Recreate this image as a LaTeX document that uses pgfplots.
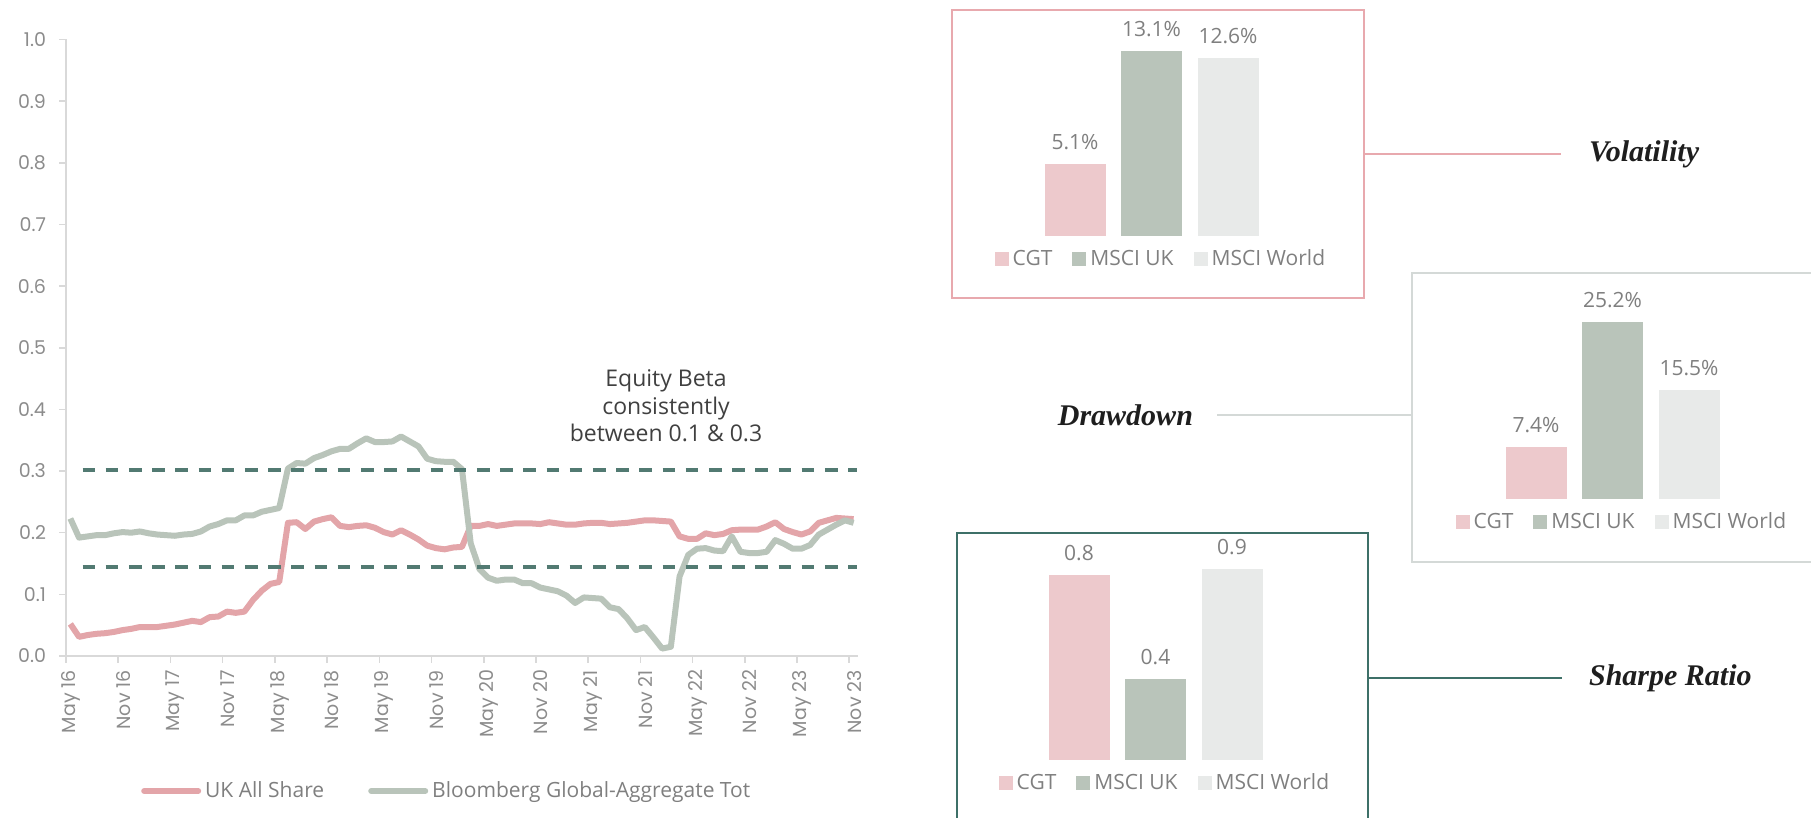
\documentclass[border=0pt]{standalone}
\usepackage{fontspec}
\setmainfont{Open Sans}
\newfontfamily\tickfont{Poppins}
\newfontfamily\headfont{Liberation Serif}
\usepackage{pgfplots}
\pgfplotsset{compat=1.18}
\usepackage{pgfplotstable}

\definecolor{ukline}{HTML}{E3A5A9}
\definecolor{bbline}{HTML}{B9C4BA}
\definecolor{dashteal}{HTML}{527A72}
\definecolor{boxteal}{HTML}{3E7068}
\definecolor{boxpink}{HTML}{E8A9AE}
\definecolor{boxgray}{HTML}{D4D9D7}
\definecolor{cgt}{HTML}{EDC9CC}
\definecolor{mscuk}{HTML}{B9C4BA}
\definecolor{mscwld}{HTML}{E8EAE9}
\definecolor{axisgray}{HTML}{D9D9D9}
\definecolor{tickgray}{HTML}{8C8C8C}
\definecolor{labgray}{HTML}{7F7F7F}
\definecolor{annot}{HTML}{404040}
\definecolor{headtxt}{HTML}{1E1E1E}

% rolling equity beta, monthly, x = month index + 0.5 from May 16
\pgfplotstableread{
x    uk     bb
0.5  0.052  0.223
1.5  0.031  0.192
2.5  0.034  0.194
3.5  0.036  0.196
4.5  0.037  0.196
5.5  0.039  0.199
6.5  0.042  0.201
7.5  0.044  0.200
8.5  0.047  0.202
9.5  0.047  0.199
10.5 0.047  0.197
11.5 0.049  0.196
12.5 0.051  0.195
13.5 0.054  0.197
14.5 0.057  0.198
15.5 0.055  0.202
16.5 0.063  0.210
17.5 0.064  0.214
18.5 0.072  0.220
19.5 0.070  0.220
20.5 0.072  0.228
21.5 0.091  0.228
22.5 0.106  0.234
23.5 0.117  0.237
24.5 0.120  0.240
25.5 0.216  0.304
26.5 0.217  0.313
27.5 0.206  0.312
28.5 0.218  0.321
29.5 0.222  0.326
30.5 0.225  0.332
31.5 0.211  0.336
32.5 0.209  0.336
33.5 0.211  0.345
34.5 0.212  0.353
35.5 0.208  0.347
36.5 0.201  0.347
37.5 0.197  0.348
38.5 0.204  0.356
39.5 0.197  0.348
40.5 0.189  0.340
41.5 0.179  0.320
42.5 0.175  0.316
43.5 0.173  0.315
44.5 0.176  0.315
45.5 0.177  0.303
46.5 0.211  0.183
47.5 0.211  0.141
48.5 0.214  0.127
49.5 0.211  0.122
50.5 0.213  0.124
51.5 0.215  0.124
52.5 0.215  0.118
53.5 0.215  0.118
54.5 0.214  0.111
55.5 0.217  0.108
56.5 0.215  0.105
57.5 0.213  0.098
58.5 0.213  0.086
59.5 0.215  0.095
60.5 0.216  0.094
61.5 0.216  0.093
62.5 0.214  0.079
63.5 0.215  0.076
64.5 0.216  0.061
65.5 0.218  0.042
66.5 0.220  0.047
67.5 0.220  0.030
68.5 0.219  0.012
69.5 0.218  0.015
70.5 0.194  0.129
71.5 0.190  0.164
72.5 0.190  0.174
73.5 0.199  0.175
74.5 0.196  0.171
75.5 0.198  0.170
76.5 0.204  0.194
77.5 0.205  0.169
78.5 0.205  0.167
79.5 0.205  0.167
80.5 0.210  0.169
81.5 0.217  0.188
82.5 0.206  0.182
83.5 0.201  0.174
84.5 0.197  0.174
85.5 0.202  0.180
86.5 0.216  0.197
87.5 0.220  0.205
88.5 0.224  0.213
89.5 0.223  0.220
90.5 0.222  0.216
}\betadata

\pgfplotsset{
  barbox/.style={
    scale only axis, width=153pt, xmin=0, xmax=4, ymin=0,
    axis lines=none, clip=false,
    /pgf/number format/assume math mode=true,
    nodes near coords={\pgfmathprintnumber{\pgfplotspointmeta}\%},
    every node near coord/.append style={font=\fontsize{10.5}{12}\selectfont, text=labgray, yshift=3.5pt},
    legend columns=3,
    legend style={draw=none, fill=none, anchor=center, font=\fontsize{10.5}{12}\selectfont, text=labgray,
      /tikz/every even column/.append style={column sep=8pt}},
    legend image code/.code={\draw[##1,draw=none] (0pt,-3.5pt) rectangle (7pt,3.5pt);},
  },
  onebar/.style={ybar, bar width=30.5pt, bar shift=0pt, draw=none, fill=#1},
}

\begin{document}
\begin{tikzpicture}
\path[use as bounding box] (0,0) rectangle (905.5pt,409pt);

% line chart
\begin{axis}[at={(33pt,81pt)}, anchor=south west, scale only axis,
  width=396pt, height=308.25pt,
  xmin=0, xmax=91, ymin=0, ymax=1,
  axis x line*=bottom, axis y line*=left,
  axis line style={-, draw=axisgray, line width=1pt},
  tick align=outside, major tick length=3.5pt,
  tick style={draw=axisgray, line width=0.8pt},
  xtick={0,6,...,90},
  xticklabels={May 16,Nov 16,May 17,Nov 17,May 18,Nov 18,May 19,Nov 19,May 20,Nov 20,May 21,Nov 21,May 22,Nov 22,May 23,Nov 23},
  ytick={0,0.1,0.2,0.3,0.4,0.5,0.6,0.7,0.8,0.9,1.0},
  /pgf/number format/assume math mode=true,
  yticklabel style={/pgf/number format/fixed, /pgf/number format/fixed zerofill, /pgf/number format/precision=1},
  tick label style={font=\tickfont\fontsize{9.5}{11}\selectfont, text=tickgray},
  x tick label style={xshift=2.5pt, rotate=90, anchor=east},
  y tick label style={xshift=-3pt},
  legend columns=2,
  legend style={at={(0.482,-0.219)}, anchor=center, draw=none, fill=none,
    font=\fontsize{10.5}{12}\selectfont, text=labgray,
    /tikz/every even column/.append style={column sep=20pt}},
  legend image code/.code={\draw[#1, line cap=round] (0pt,0pt) -- (27pt,0pt);},
]
\addplot[ukline, line width=3pt, line join=round] table[x=x, y=uk] {\betadata};
\addlegendentry{UK All Share}
\addplot[bbline, line width=3pt, line join=round] table[x=x, y=bb] {\betadata};
\addlegendentry{Bloomberg Global-Aggregate Tot}
\addplot[forget plot, dashteal, line width=2pt, dash pattern=on 6.3pt off 5.3pt] coordinates {(1.9,0.302) (90.9,0.302)};
\addplot[forget plot, dashteal, line width=2pt, dash pattern=on 6.3pt off 5.3pt] coordinates {(1.9,0.1436) (90.9,0.1436)};
\end{axis}

\node[align=center, font=\fontsize{11.5}{13.8}\selectfont, text=annot] at (333pt,206pt)
  {Equity Beta\\consistently\\between 0.1 \& 0.3};

% Volatility
\draw[boxpink, line width=1.2pt] (476pt,260pt) rectangle (682pt,404pt);
\draw[boxpink, line width=0.6pt] (682pt,332pt) -- (780.5pt,332pt);
\node[anchor=west, font=\headfont\bfseries\itshape\fontsize{15}{18}\selectfont, text=headtxt] at (791pt,332pt) {Volatility};
\begin{axis}[barbox, at={(499.25pt,291.15pt)}, anchor=south west, height=105.75pt, ymax=15,
  legend style={at={(0.534,-0.110)}}]
\addplot[onebar=cgt] coordinates {(1,5.1)};
\addlegendentry{CGT}
\addplot[onebar=mscuk] coordinates {(2,13.1)};
\addlegendentry{MSCI UK}
\addplot[onebar=mscwld] coordinates {(3,12.6)};
\addlegendentry{MSCI World}
\end{axis}

% Drawdown
\draw[boxgray, line width=1.2pt] (905.5pt,272.5pt) -- (706pt,272.5pt) -- (706pt,128pt) -- (905.5pt,128pt);
\draw[boxgray, line width=0.6pt] (608.5pt,201.5pt) -- (706pt,201.5pt);
\node[anchor=east, font=\headfont\bfseries\itshape\fontsize{15}{18}\selectfont, text=headtxt] at (600pt,201.5pt) {Drawdown};
\begin{axis}[barbox, at={(729.75pt,159.5pt)}, anchor=south west, height=98.4pt, ymax=28,
  legend style={at={(0.534,-0.117)}}]
\addplot[onebar=cgt] coordinates {(1,7.4)};
\addlegendentry{CGT}
\addplot[onebar=mscuk] coordinates {(2,25.2)};
\addlegendentry{MSCI UK}
\addplot[onebar=mscwld] coordinates {(3,15.5)};
\addlegendentry{MSCI World}
\end{axis}

% Sharpe ratio
\draw[boxteal, line width=1.2pt] (478.5pt,0pt) -- (478.5pt,142.5pt) -- (684pt,142.5pt) -- (684pt,0pt);
\draw[boxteal, line width=0.6pt] (684pt,70pt) -- (781pt,70pt);
\node[anchor=west, font=\headfont\bfseries\itshape\fontsize{15}{18}\selectfont, text=headtxt] at (791pt,70pt) {Sharpe Ratio};
\begin{axis}[barbox, at={(501.25pt,29pt)}, anchor=south west, height=110pt, ymax=1,
  nodes near coords={\pgfmathprintnumber[fixed, fixed zerofill, precision=1]{\pgfplotspointmeta}},
  legend style={at={(0.534,-0.105)}}]
\addplot[onebar=cgt] coordinates {(1,0.84)};
\addlegendentry{CGT}
\addplot[onebar=mscuk] coordinates {(2,0.37)};
\addlegendentry{MSCI UK}
\addplot[onebar=mscwld] coordinates {(3,0.87)};
\addlegendentry{MSCI World}
\end{axis}
\end{tikzpicture}
\end{document}
